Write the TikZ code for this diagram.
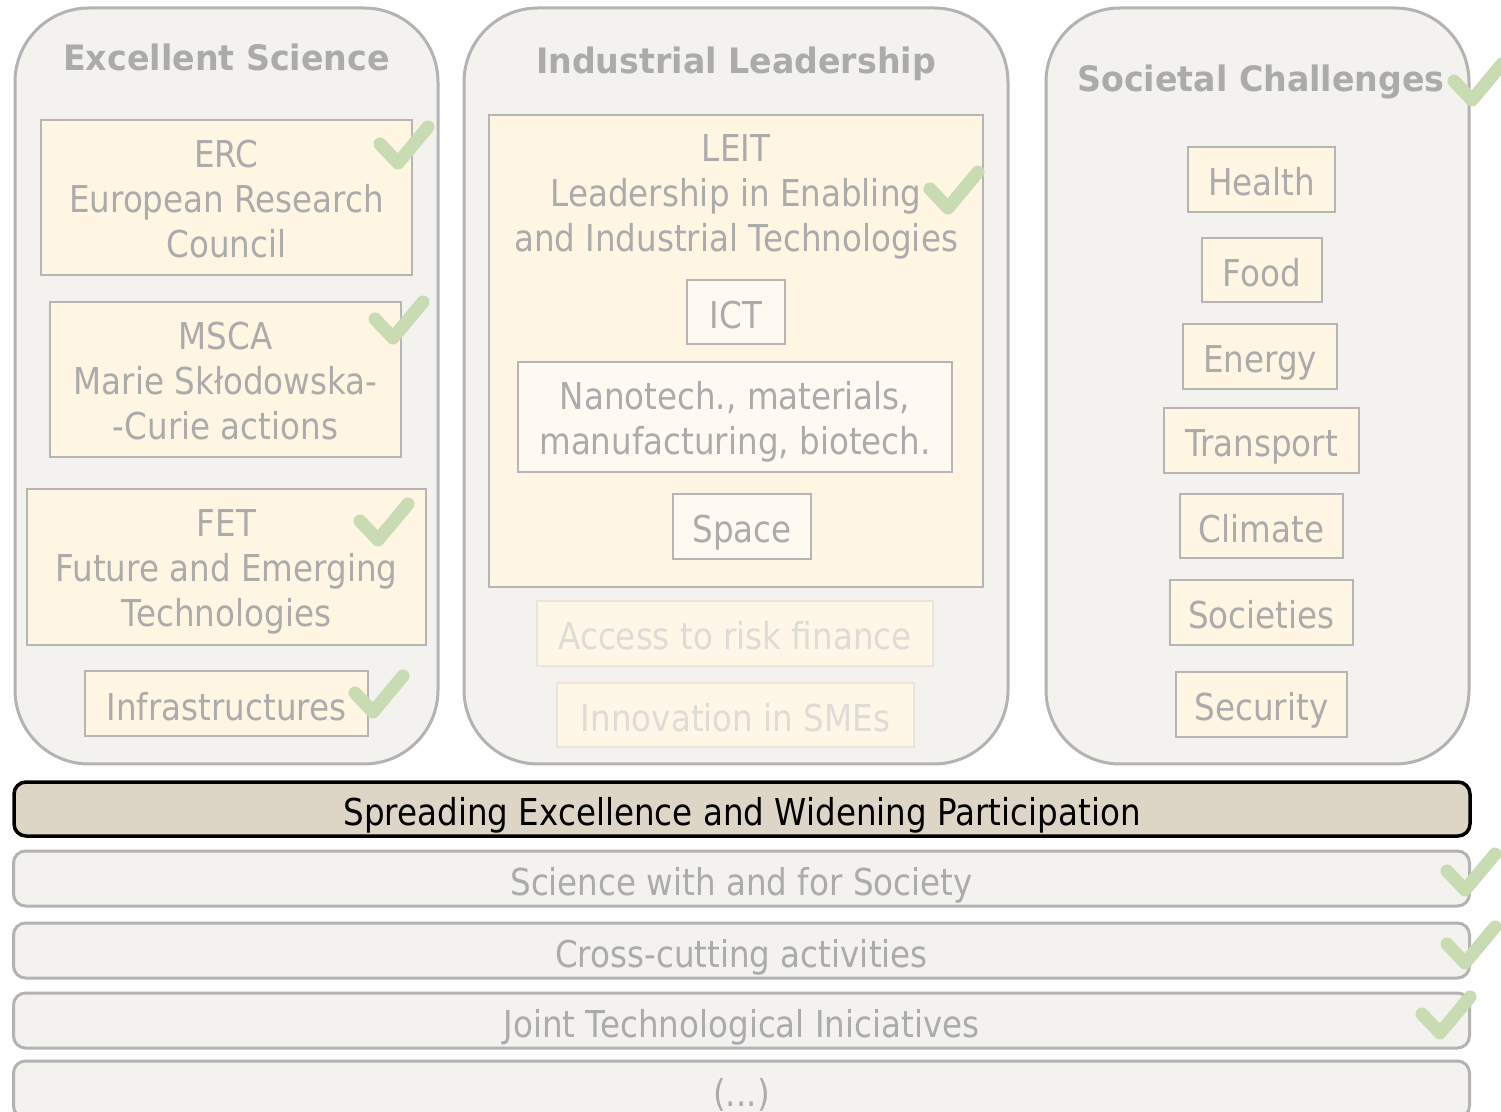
\documentclass[tikz,border=0pt]{standalone}
\usepackage{fontspec}
\setmainfont{DejaVu Sans}[FakeStretch=0.88]
\newfontfamily\headfont{DejaVu Sans}[FakeStretch=0.95]

\definecolor{panelfill}{HTML}{F4F2EE}
\definecolor{panelline}{HTML}{B3B3B3}
\definecolor{boxfill}{HTML}{FEF5E3}
\definecolor{subfill}{HTML}{FEFAF2}
\definecolor{boxline}{HTML}{B5B5B5}
\definecolor{textgray}{HTML}{ABABAB}
\definecolor{fadeline}{HTML}{E9E5DB}
\definecolor{fadefill}{HTML}{FEF6E6}
\definecolor{fadetext}{HTML}{DEDCD7}
\definecolor{spreadfill}{HTML}{DDD5C6}
\definecolor{tickgreen}{HTML}{C9DBB3}

\tikzset{
  horizon/.style={
    every node/.style={font=\fontsize{18.5}{22.5}\selectfont, text=textgray, inner sep=0pt},
    panel/.style={
        draw=panelline,
        line width=1.5pt,
        fill=panelfill,
        rounded corners=37pt,
    },
    title/.style={
        font=\headfont\bfseries\fontsize{17.5}{21}\selectfont,
        anchor=base,
    },
    box/.style={
        draw=boxline,
        line width=1pt,
        fill=boxfill,
    },
    subbox/.style={box, fill=subfill},
    onebox/.style={text height=16.5pt, text depth=0pt},
    fadebox/.style={
        draw=fadeline,
        line width=1pt,
        fill=fadefill,
        text=fadetext,
        onebox,
    },
    bar/.style={
        draw=panelline,
        line width=1.5pt,
        fill=panelfill,
        rounded corners=6pt,
        minimum width=728pt,
        minimum height=27.5pt,
        onebox,
    },
    spread/.style={bar, draw=black, line width=1.75pt, fill=spreadfill, text=black},
  },
  tick/.pic={
    \draw[tickgreen, line width=6.5pt, line cap=round, line join=round]
        (-18,-19) -- (0,0) -- (30,-36);
  }
}

\begin{document}
\begin{tikzpicture}[horizon, x=0.5pt, y=-0.5pt]
    \useasboundingbox (0,0) rectangle (1501,1112);

    % three pillars
    \node[panel, minimum width=211.5pt, minimum height=378pt] (science) at (226.5,386) {};
    \node[panel, minimum width=272pt, minimum height=378pt] (industry) at (736,386) {};
    \node[panel, minimum width=211.5pt, minimum height=378pt] (society) at (1257.5,386) {};

    \node[title] (sciencetitle) at (226.5,71) {Excellent Science};
    \node[title] (industrytitle) at (736,74) {Industrial Leadership};
    \node[title] (societytitle) at (1261,92) {Societal Challenges};

    % excellent science
    \node[box, minimum width=185.5pt, minimum height=77.5pt] (erc) at (226.5,197.5) {};
    \node[align=center] (erctext) at (226.5,199)
        {ERC\\European Research\\Council};
    \node[box, minimum width=175.5pt, minimum height=77.5pt] (msca) at (225.5,379.5) {};
    \node[align=center] (mscatext) at (225.5,381)
        {MSCA\\Marie Skłodowska-\\-Curie actions};
    \node[box, minimum width=199.5pt, minimum height=78pt] (fet) at (226.5,567) {};
    \node[align=center] (fettext) at (226.5,572)
        {FET\\Future and Emerging\\Technologies};
    \node[box, onebox, minimum width=141.5pt, minimum height=32.5pt] (infra) at (226.5,703.5)
        {Infrastructures};

    % industrial leadership
    \node[box, minimum width=247pt, minimum height=236pt] (leit) at (736,351) {};
    \node[align=center] (leittext) at (736,197)
        {LEIT\\Leadership in Enabling\\and Industrial Technologies};
    \node[subbox, onebox, minimum width=49pt, minimum height=32pt] (ict) at (736,312) {ICT};
    \node[subbox, minimum width=217pt, minimum height=55pt] (nano) at (735,417) {};
    \node[align=center] (nanotext) at (735,422)
        {Nanotech., materials,\\manufacturing, biotech.};
    \node[subbox, onebox, minimum width=69pt, minimum height=32.5pt] (space) at (742,526.5) {Space};
    \node[fadebox, minimum width=198pt, minimum height=32.5pt] (risk) at (735,633.5)
        {Access to risk finance};
    \node[fadebox, minimum width=178.5pt, minimum height=32pt] (smes) at (735.5,715)
        {Innovation in SMEs};

    % societal challenges
    \node[box, onebox, minimum width=73.5pt, minimum height=32.5pt] (health) at (1261.5,179.5) {Health};
    \node[box, onebox, minimum width=60pt, minimum height=32pt] (food) at (1262,270) {Food};
    \node[box, onebox, minimum width=77pt, minimum height=32.5pt] (energy) at (1260,356.5) {Energy};
    \node[box, onebox, minimum width=97.5pt, minimum height=32.5pt] (transport) at (1261.5,440.5) {Transport};
    \node[box, onebox, minimum width=81.5pt, minimum height=32pt] (climate) at (1261.5,526) {Climate};
    \node[box, onebox, minimum width=91.5pt, minimum height=32.5pt] (societies) at (1261.5,612.5) {Societies};
    \node[box, onebox, minimum width=85.5pt, minimum height=32.5pt] (security) at (1261.5,704.5) {Security};

    % horizontal bars
    \node[spread, minimum height=27pt] (spreading) at (742,809)
        {Spreading Excellence and Widening Participation};
    \node[bar] (swafs) at (741.5,878.5) {Science with and for Society};
    \node[bar] (crosscut) at (741.5,950.5) {Cross-cutting activities};
    \node[bar] (jti) at (741.5,1020.5) {Joint Technological Iniciatives};
    \node[bar, minimum height=28.5pt] (more) at (741.5,1089.5) {(...)};

    % ticks
    \pic at (398,163) {tick};
    \pic at (393,338) {tick};
    \pic at (378,540) {tick};
    \pic at (373,712) {tick};
    \pic at (948,208) {tick};
    \pic at (1472,100) {tick};
    \pic at (1465,890) {tick};
    \pic at (1465,963) {tick};
    \pic at (1440,1033) {tick};
\end{tikzpicture}
\end{document}
